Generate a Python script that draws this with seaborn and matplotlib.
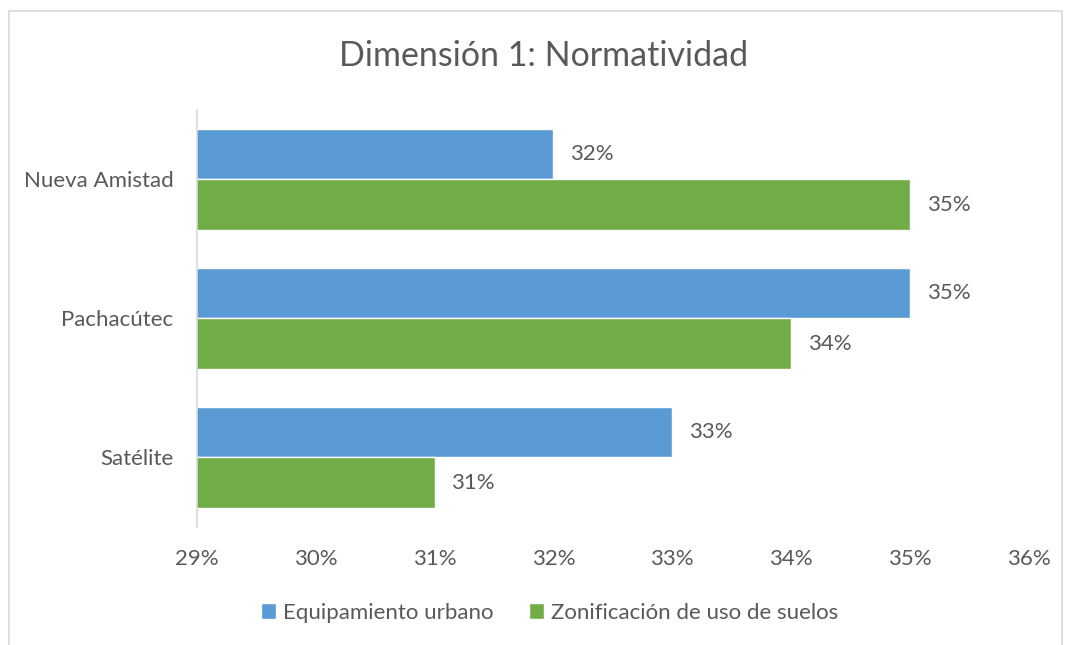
import pandas as pd
import seaborn as sns
import matplotlib.pyplot as plt
from matplotlib.lines import Line2D

# Data
zonas = ['Nueva Amistad', 'Pachacútec', 'Satélite']
series = ['Equipamiento urbano', 'Zonificación de uso de suelos']
equipamiento = [0.32, 0.35, 0.33]
zonificacion = [0.35, 0.34, 0.31]
xticks = [0.29, 0.30, 0.31, 0.32, 0.33, 0.34, 0.35, 0.36]

df = pd.DataFrame({
    'Zona': zonas * 2,
    'Serie': [series[0]] * 3 + [series[1]] * 3,
    'Valor': equipamiento + zonificacion,
})

sns.set_theme(style='white')
plt.rcParams['font.family'] = ['Lato', 'DejaVu Sans']
gray = '#595959'
fs = 16

fig = plt.figure(figsize=(10.65, 6.45), dpi=100)
ax = fig.add_axes([0.185, 0.183, 0.781, 0.6465])

sns.barplot(data=df, y='Zona', x='Valor', hue='Serie', orient='h',
            palette=['#5B9BD5', '#70AD47'], width=0.73, ax=ax,
            saturation=1, legend=True)

for cont in ax.containers:
    ax.bar_label(cont, labels=[f'{v * 100:.0f}%' for v in cont.datavalues],
                 padding=12, fontsize=fs, color=gray)

ax.set_xlim(0.29, 0.36)
ax.set_ylim(2.5, -0.5)
ax.set_xticks(xticks)
ax.set_xticklabels([f'{t * 100:.0f}%' for t in xticks])
ax.tick_params(axis='both', labelsize=fs, colors=gray, length=0)
ax.tick_params(axis='y', pad=17)
ax.tick_params(axis='x', pad=16)
ax.set_xlabel('')
ax.set_ylabel('')
for s in ['top', 'right', 'bottom']:
    ax.spines[s].set_visible(False)
ax.spines['left'].set_color('#D9D9D9')
ax.spines['left'].set_linewidth(1.2)

ax.legend(loc='center', bbox_to_anchor=(0.516, 0.05), bbox_transform=fig.transFigure,
          ncol=2, frameon=False, fontsize=fs, labelcolor=gray,
          handlelength=0.7, handleheight=0.7, handletextpad=0.3,
          columnspacing=1.6)

fig.text(0.51, 0.913, 'Dimensión 1: Normatividad', ha='center', va='center',
         fontsize=24.5, color=gray)

# chart border (left, top, right)
bx0, bx1, by = 9 / 1065, 1062 / 1065, 1 - 11 / 645
fig.lines.append(Line2D([bx0, bx0, bx1, bx1], [0, by, by, 0],
                        transform=fig.transFigure, color='#D9D9D9', linewidth=1.2))

plt.savefig('out.png', dpi=100)
